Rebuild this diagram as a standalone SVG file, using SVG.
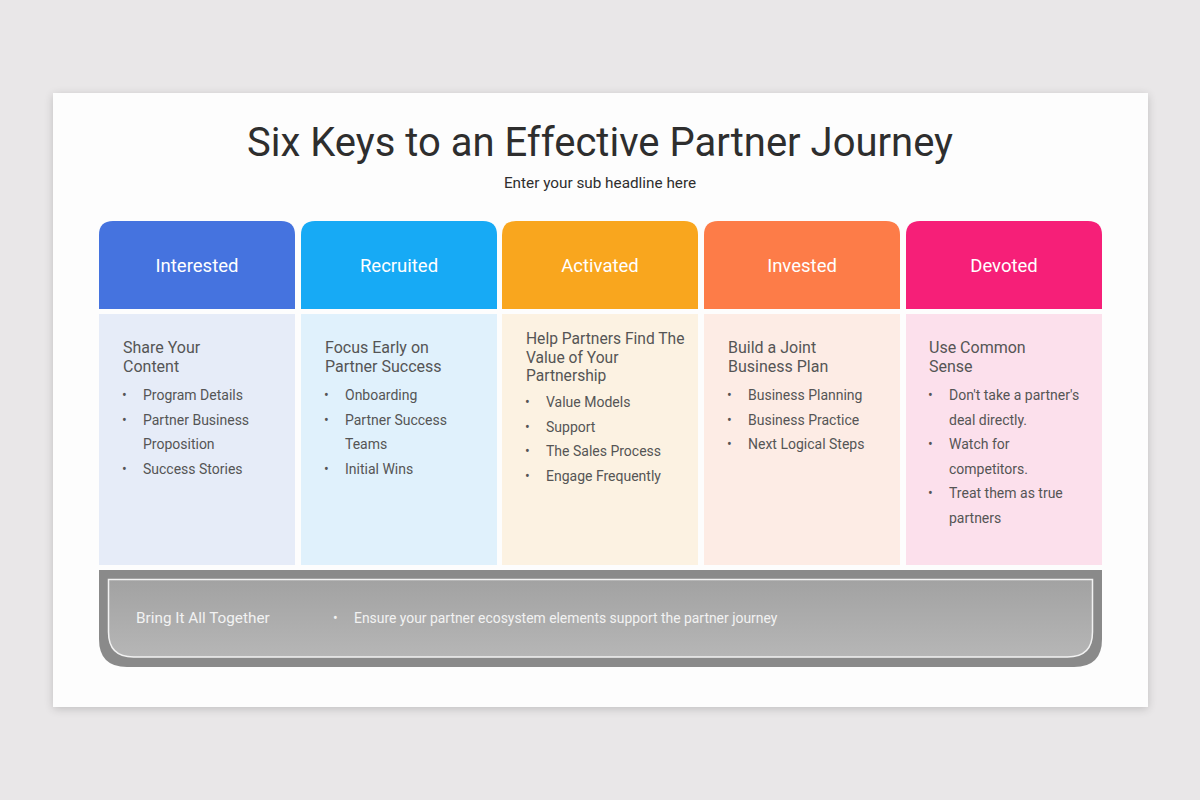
<svg xmlns="http://www.w3.org/2000/svg" width="1200" height="800" viewBox="0 0 1200 800">
<defs>
<filter id="shadow" x="-5%" y="-5%" width="110%" height="115%">
<feGaussianBlur in="SourceAlpha" stdDeviation="5"/>
<feOffset dx="0" dy="2" result="b"/>
<feComponentTransfer><feFuncA type="linear" slope="0.18"/></feComponentTransfer>
<feMerge><feMergeNode/><feMergeNode in="SourceGraphic"/></feMerge>
</filter>
<linearGradient id="band" x1="0" y1="0" x2="0" y2="1">
<stop offset="0" stop-color="#a2a2a2"/>
<stop offset="1" stop-color="#b6b6b6"/>
</linearGradient>
</defs>
<style>
text{font-family:Roboto,"Liberation Sans",sans-serif}
.title{font-size:40px;fill:#2e2e2e;text-anchor:middle}
.sub{font-size:15.3px;fill:#2e2e2e;text-anchor:middle}
.hd{font-size:18.5px;fill:#ffffff;text-anchor:middle}
.h2{font-size:16px;fill:#555555}
.h2n{font-size:15.6px;fill:#555555}
.li{font-size:14px;fill:#555555}
.lb{font-size:13.9px;fill:#f2f2f2}
.bt{font-size:15.3px;fill:#f2f2f2}
</style>
<rect width="1200" height="800" fill="#e9e7e8"/>
<rect x="53" y="93" width="1095" height="614" fill="#fdfdfd" filter="url(#shadow)"/>
<text class="title" x="600" y="156">Six Keys to an Effective Partner Journey</text>
<text class="sub" x="600" y="188">Enter your sub headline here</text>

<g id="col-interested">
<path d="M99 309 V235 Q99 221 113 221 H281 Q295 221 295 235 V309 Z" fill="#4573df"/>
<rect x="99" y="314" width="196" height="251" fill="#e6ecf8"/>
<text class="hd" x="197" y="272">Interested</text>
<text class="h2" x="123" y="353">Share Your</text>
<text class="h2" x="123" y="372">Content</text>
<text class="li" x="122" y="400">•</text><text class="li" x="143" y="400">Program Details</text>
<text class="li" x="122" y="425">•</text><text class="li" x="143" y="425">Partner Business</text>
<text class="li" x="143" y="449">Proposition</text>
<text class="li" x="122" y="474">•</text><text class="li" x="143" y="474">Success Stories</text>
</g>

<g id="col-recruited">
<path d="M301 309 V235 Q301 221 315 221 H483 Q497 221 497 235 V309 Z" fill="#17aaf5"/>
<rect x="301" y="314" width="196" height="251" fill="#e0f1fc"/>
<text class="hd" x="399" y="272">Recruited</text>
<text class="h2" x="325" y="353">Focus Early on</text>
<text class="h2" x="325" y="372">Partner Success</text>
<text class="li" x="324" y="400">•</text><text class="li" x="345" y="400">Onboarding</text>
<text class="li" x="324" y="425">•</text><text class="li" x="345" y="425">Partner Success</text>
<text class="li" x="345" y="449">Teams</text>
<text class="li" x="324" y="474">•</text><text class="li" x="345" y="474">Initial Wins</text>
</g>

<g id="col-activated">
<path d="M502 309 V235 Q502 221 516 221 H684 Q698 221 698 235 V309 Z" fill="#f9a61e"/>
<rect x="502" y="314" width="196" height="251" fill="#fcf2e2"/>
<text class="hd" x="600" y="272">Activated</text>
<text class="h2n" x="526" y="344">Help Partners Find The</text>
<text class="h2n" x="526" y="363">Value of Your</text>
<text class="h2n" x="526" y="381">Partnership</text>
<text class="li" x="525" y="407">•</text><text class="li" x="546" y="407">Value Models</text>
<text class="li" x="525" y="432">•</text><text class="li" x="546" y="432">Support</text>
<text class="li" x="525" y="456">•</text><text class="li" x="546" y="456">The Sales Process</text>
<text class="li" x="525" y="481">•</text><text class="li" x="546" y="481">Engage Frequently</text>
</g>

<g id="col-invested">
<path d="M704 309 V235 Q704 221 718 221 H886 Q900 221 900 235 V309 Z" fill="#fd7c48"/>
<rect x="704" y="314" width="196" height="251" fill="#fdece5"/>
<text class="hd" x="802" y="272">Invested</text>
<text class="h2" x="728" y="353">Build a Joint</text>
<text class="h2" x="728" y="372">Business Plan</text>
<text class="li" x="727" y="400">•</text><text class="li" x="748" y="400">Business Planning</text>
<text class="li" x="727" y="425">•</text><text class="li" x="748" y="425">Business Practice</text>
<text class="li" x="727" y="449">•</text><text class="li" x="748" y="449">Next Logical Steps</text>
</g>

<g id="col-devoted">
<path d="M906 309 V235 Q906 221 920 221 H1088 Q1102 221 1102 235 V309 Z" fill="#f61f78"/>
<rect x="906" y="314" width="196" height="251" fill="#fce0ec"/>
<text class="hd" x="1004" y="272">Devoted</text>
<text class="h2" x="929" y="353">Use Common</text>
<text class="h2" x="929" y="372">Sense</text>
<text class="li" x="928" y="400">•</text><text class="li" x="949" y="400">Don't take a partner's</text>
<text class="li" x="949" y="425">deal directly.</text>
<text class="li" x="928" y="449">•</text><text class="li" x="949" y="449">Watch for</text>
<text class="li" x="949" y="474">competitors.</text>
<text class="li" x="928" y="498">•</text><text class="li" x="949" y="498">Treat them as true</text>
<text class="li" x="949" y="523">partners</text>
</g>

<g id="together">
<path d="M99 570 H1102 V639 Q1102 667 1074 667 H127 Q99 667 99 639 Z" fill="#8a8a8a"/>
<path d="M108.5 579.5 H1092.5 V632 Q1092.5 657 1067.5 657 H133.5 Q108.5 657 108.5 632 Z" fill="url(#band)" stroke="#f2f2f2" stroke-width="1.5"/>
<text class="bt" x="136" y="623">Bring It All Together</text>
<text class="lb" x="333" y="623">•</text>
<text class="lb" x="354" y="623">Ensure your partner ecosystem elements support the partner journey</text>
</g>
<g id="connectors"/>
</svg>
